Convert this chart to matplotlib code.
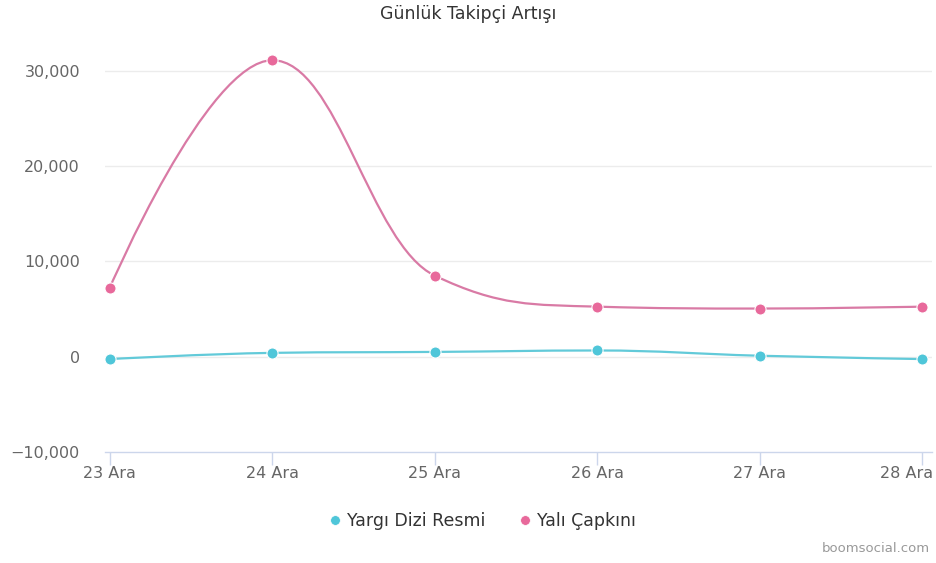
import matplotlib
matplotlib.use("Agg")
import matplotlib.pyplot as plt
from matplotlib.path import Path
from matplotlib.patches import PathPatch
from matplotlib.lines import Line2D
from matplotlib.ticker import FuncFormatter
import matplotlib.transforms as mtransforms

plt.rcParams['font.family'] = ['DejaVu Sans']

categories = ["23 Ara", "24 Ara", "25 Ara", "26 Ara", "27 Ara", "28 Ara"]
yargi = [-250, 400, 500, 650, 100, -250]
yali = [7250, 31100, 8500, 5250, 5050, 5250]
series_names = ["Yargı Dizi Resmi", "Yalı Çapkını"]
yticks = [-10000, 0, 10000, 20000, 30000]

CYAN = "#4fc6d9"
PINK = "#e8699b"
PINK_LINE = "#d97aa5"
CYAN_LINE = "#62cad9"


def hc_spline_path(xs, ys, smoothing=1.5):
    n = len(xs)
    denom = smoothing + 1
    left = [(xs[i], ys[i]) for i in range(n)]
    right = [(xs[i], ys[i]) for i in range(n)]
    for i in range(1, n - 1):
        px, py = xs[i], ys[i]
        lx, ly = xs[i - 1], ys[i - 1]
        nx, ny = xs[i + 1], ys[i + 1]
        lcx = (smoothing * px + lx) / denom
        lcy = (smoothing * py + ly) / denom
        rcx = (smoothing * px + nx) / denom
        rcy = (smoothing * py + ny) / denom
        corr = 0
        if rcx != lcx:
            corr = ((rcy - lcy) * (rcx - px)) / (rcx - lcx) + py - rcy
        lcy += corr
        rcy += corr
        if lcy > ly and lcy > py:
            lcy = max(ly, py)
            rcy = 2 * py - lcy
        elif lcy < ly and lcy < py:
            lcy = min(ly, py)
            rcy = 2 * py - lcy
        if rcy > ny and rcy > py:
            rcy = max(ny, py)
            lcy = 2 * py - rcy
        elif rcy < ny and rcy < py:
            rcy = min(ny, py)
            lcy = 2 * py - rcy
        left[i] = (lcx, lcy)
        right[i] = (rcx, rcy)
    verts = [(xs[0], ys[0])]
    codes = [Path.MOVETO]
    for i in range(1, n):
        verts += [right[i - 1], left[i], (xs[i], ys[i])]
        codes += [Path.CURVE4] * 3
    return Path(verts, codes)


fig = plt.figure(figsize=(9.36, 5.63), dpi=100)
ax = fig.add_axes([105 / 936, 1 - 452 / 563, (932 - 105) / 936, (452 - 45) / 563])

xs = list(range(len(categories)))
for vals, mc, lc, z in [(yargi, CYAN, CYAN_LINE, 3), (yali, PINK, PINK_LINE, 4)]:
    patch = PathPatch(hc_spline_path(xs, vals), facecolor="none", edgecolor=lc,
                      lw=1.6, zorder=z)
    ax.add_patch(patch)
    ax.plot(xs, vals, linestyle="none", marker="o", markersize=8,
            markerfacecolor=mc, markeredgecolor="white", markeredgewidth=0.8,
            zorder=z + 0.5)

ax.set_xlim(-0.03, 5.06)
ax.set_ylim(-10000, 32700)
ax.set_xticks(xs)
ax.set_xticklabels(categories)
ax.set_yticks(yticks)
ax.yaxis.set_major_formatter(FuncFormatter(lambda v, p: f"{int(v):,}".replace("-", "\u2212")))

for s in ["top", "right", "left"]:
    ax.spines[s].set_visible(False)
ax.spines["bottom"].set_color("#ccd6eb")
ax.spines["bottom"].set_linewidth(1.0)

ax.tick_params(axis="x", colors="#ccd6eb", length=9, width=1, labelcolor="#666666",
               labelsize=11.5, pad=1)
ax.tick_params(axis="y", length=0, labelcolor="#666666", labelsize=11.5, pad=18)

# last label justified to stay inside the figure, as in the reference
last = ax.get_xticklabels()[-1]
last.set_horizontalalignment("right")
last.set_transform(last.get_transform() + mtransforms.ScaledTranslation(11 / 100, 0, fig.dpi_scale_trans))

for y in yticks[1:]:
    ax.axhline(y, color="#ececec", lw=1, zorder=1)

fig.text(0.5, 1 - 14 / 563, "Günlük Takipçi Artışı", ha="center", va="center",
         fontsize=12.5, color="#333333")

handles = [Line2D([], [], linestyle="none", marker="o", markersize=7,
                  markerfacecolor=c, markeredgecolor="white", markeredgewidth=0.5)
           for c in (CYAN, PINK)]
fig.legend(handles, series_names, loc="center", bbox_to_anchor=(481 / 936, 1 - 521 / 563),
           ncol=2, frameon=False, fontsize=12.5, labelcolor="#333333",
           handletextpad=0.2, columnspacing=1.8, handlelength=1.0)

fig.text(930 / 936, 1 - 548 / 563, "boomsocial.com", ha="right", va="center",
         fontsize=9.5, color="#999999")

fig.savefig("out.png", dpi=100, facecolor="white")
